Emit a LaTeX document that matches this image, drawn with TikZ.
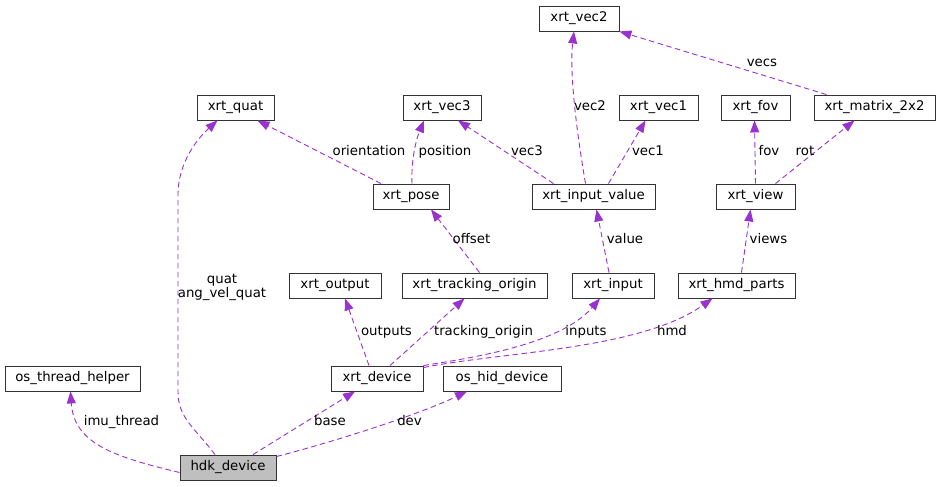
\documentclass[tikz,border=0pt]{standalone}
\usepackage{fontspec}
\setmainfont{DejaVu Sans}
\usetikzlibrary{arrows.meta}
\definecolor{edgecol}{HTML}{9A32CD}
\definecolor{hdkfill}{HTML}{BFBFBF}
\begin{document}
\begin{tikzpicture}[x=1pt,y=-1pt,
  every node/.style={font=\fontsize{13.3}{15.5}\selectfont},
  cls/.style={draw=black!80,line width=0.9pt,fill=white,minimum height=25pt,inner sep=0pt,text height=9.7pt,text depth=2.8pt},
  edge/.style={draw=edgecol,line width=0.9pt,dash pattern=on 5.5pt off 3.5pt,-{Triangle[length=12pt,width=9pt]}},
  lbl/.style={inner sep=0pt,text height=9.7pt,text depth=2.8pt},
  lbltwo/.style={inner sep=0pt,align=center,font=\fontsize{13.3}{14.5}\selectfont}]
\useasboundingbox[fill=white] (0,0) rectangle (940,487);
% nodes
\node[cls,minimum width=80pt] (vec2) at (579,18.5) {xrt\_vec2};
\node[cls,minimum width=77pt] (quat) at (235.5,107.5) {xrt\_quat};
\node[cls,minimum width=78pt] (vec3) at (442,107.5) {xrt\_vec3};
\node[cls,minimum width=79pt] (vec1) at (658.5,107.5) {xrt\_vec1};
\node[cls,minimum width=69pt] (fov) at (755.5,107.5) {xrt\_fov};
\node[cls,minimum width=121pt] (mat) at (874.5,107.5) {xrt\_matrix\_2x2};
\node[cls,minimum width=76pt] (pose) at (411,196.5) {xrt\_pose};
\node[cls,minimum width=123pt] (iv) at (593.5,196.5) {xrt\_input\_value};
\node[cls,minimum width=79pt] (view) at (755.5,196.5) {xrt\_view};
\node[cls,minimum width=92pt] (output) at (335,285.5) {xrt\_output};
\node[cls,minimum width=145pt] (track) at (474.5,285.5) {xrt\_tracking\_origin};
\node[cls,minimum width=82pt] (input) at (613,285.5) {xrt\_input};
\node[cls,minimum width=117pt] (hmd) at (736.5,285.5) {xrt\_hmd\_parts};
\node[cls,minimum width=135pt] (oth) at (72.5,378.5) {os\_thread\_helper};
\node[cls,minimum width=92pt] (dev) at (377,378.5) {xrt\_device};
\node[cls,minimum width=118pt] (hid) at (502,378.5) {os\_hid\_device};
\node[cls,minimum width=96pt,fill=hdkfill] (hdk) at (228,467.5) {hdk\_device};
% edges
\draw[edge] ([yshift=-5pt]hdk.west) .. controls (115,457) and (74,444) .. ([xshift=-2pt]oth.south);
\draw[edge] ([xshift=-13pt]hdk.north) .. controls (195,428) and (178,418) .. (178,392) -- (178,195) .. controls (178,162) and (198,138) .. ([xshift=-18pt]quat.south);
\draw[edge] ([xshift=25pt]hdk.north) -- ([xshift=-22pt]dev.south);
\draw[edge] ([yshift=-2pt]hdk.north east) .. controls (340,440) and (420,414) .. ([xshift=-35pt]hid.south);
\draw[edge] ([xshift=-8pt]dev.north) -- ([xshift=10pt]output.south);
\draw[edge] ([xshift=13pt]dev.north) -- ([xshift=-10pt]track.south);
\draw[edge] (dev.north east) .. controls (470,358) and (560,345) .. ([xshift=-13pt]input.south);
\draw[edge] ([yshift=-2pt]dev.north east) .. controls (500,352) and (640,350) .. ([xshift=-24pt]hmd.south);
\draw[edge] ([xshift=5pt]track.north) -- ([xshift=20pt]pose.south);
\draw[edge] ([xshift=-4pt]input.north) -- ([xshift=3pt]iv.south);
\draw[edge] ([xshift=5pt]hmd.north) -- ([xshift=-5pt]view.south);
\draw[edge] ([xshift=-30pt]pose.north) -- ([xshift=22pt]quat.south);
\draw[edge] ([xshift=1pt]pose.north) .. controls (411,160) and (416,140) .. ([xshift=-18pt]vec3.south);
\draw[edge] ([xshift=-40pt]iv.north) -- ([xshift=16pt]vec3.south);
\draw[edge] ([xshift=-8pt]iv.north) .. controls (578,140) and (569,75) .. ([xshift=-5pt]vec2.south);
\draw[edge] ([xshift=15pt]iv.north) -- ([xshift=-13pt]vec1.south);
\draw[edge] (view.north) -- ([xshift=-1pt]fov.south);
\draw[edge] ([xshift=20pt]view.north) -- ([xshift=-20pt]mat.south);
\draw[edge] ([xshift=-48pt]mat.north) -- (vec2.south east);
% labels
\node[lbl] (l1) at (121.5,422) {imu\_thread};
\node[lbltwo] (l2) at (222,287.5) {quat\\ang\_vel\_quat};
\node[lbl] (l3) at (330,422) {base};
\node[lbl] (l4) at (409.5,422) {dev};
\node[lbl] (l5) at (386.5,332) {outputs};
\node[lbl] (l6) at (483.5,332) {tracking\_origin};
\node[lbl] (l7) at (586,332) {inputs};
\node[lbl] (l8) at (672,332) {hmd};
\node[lbl] (l9) at (471.5,240) {offset};
\node[lbl] (l10) at (625,240) {value};
\node[lbl] (l11) at (768.5,240) {views};
\node[lbl] (l12) at (369,152) {orientation};
\node[lbl] (l13) at (445,152) {position};
\node[lbl] (l14) at (527,152) {vec3};
\node[lbl] (l15) at (590,107) {vec2};
\node[lbl] (l16) at (648,152) {vec1};
\node[lbl] (l17) at (769,152) {fov};
\node[lbl] (l18) at (805,152) {rot};
\node[lbl] (l19) at (762,63) {vecs};
\end{tikzpicture}
\end{document}
